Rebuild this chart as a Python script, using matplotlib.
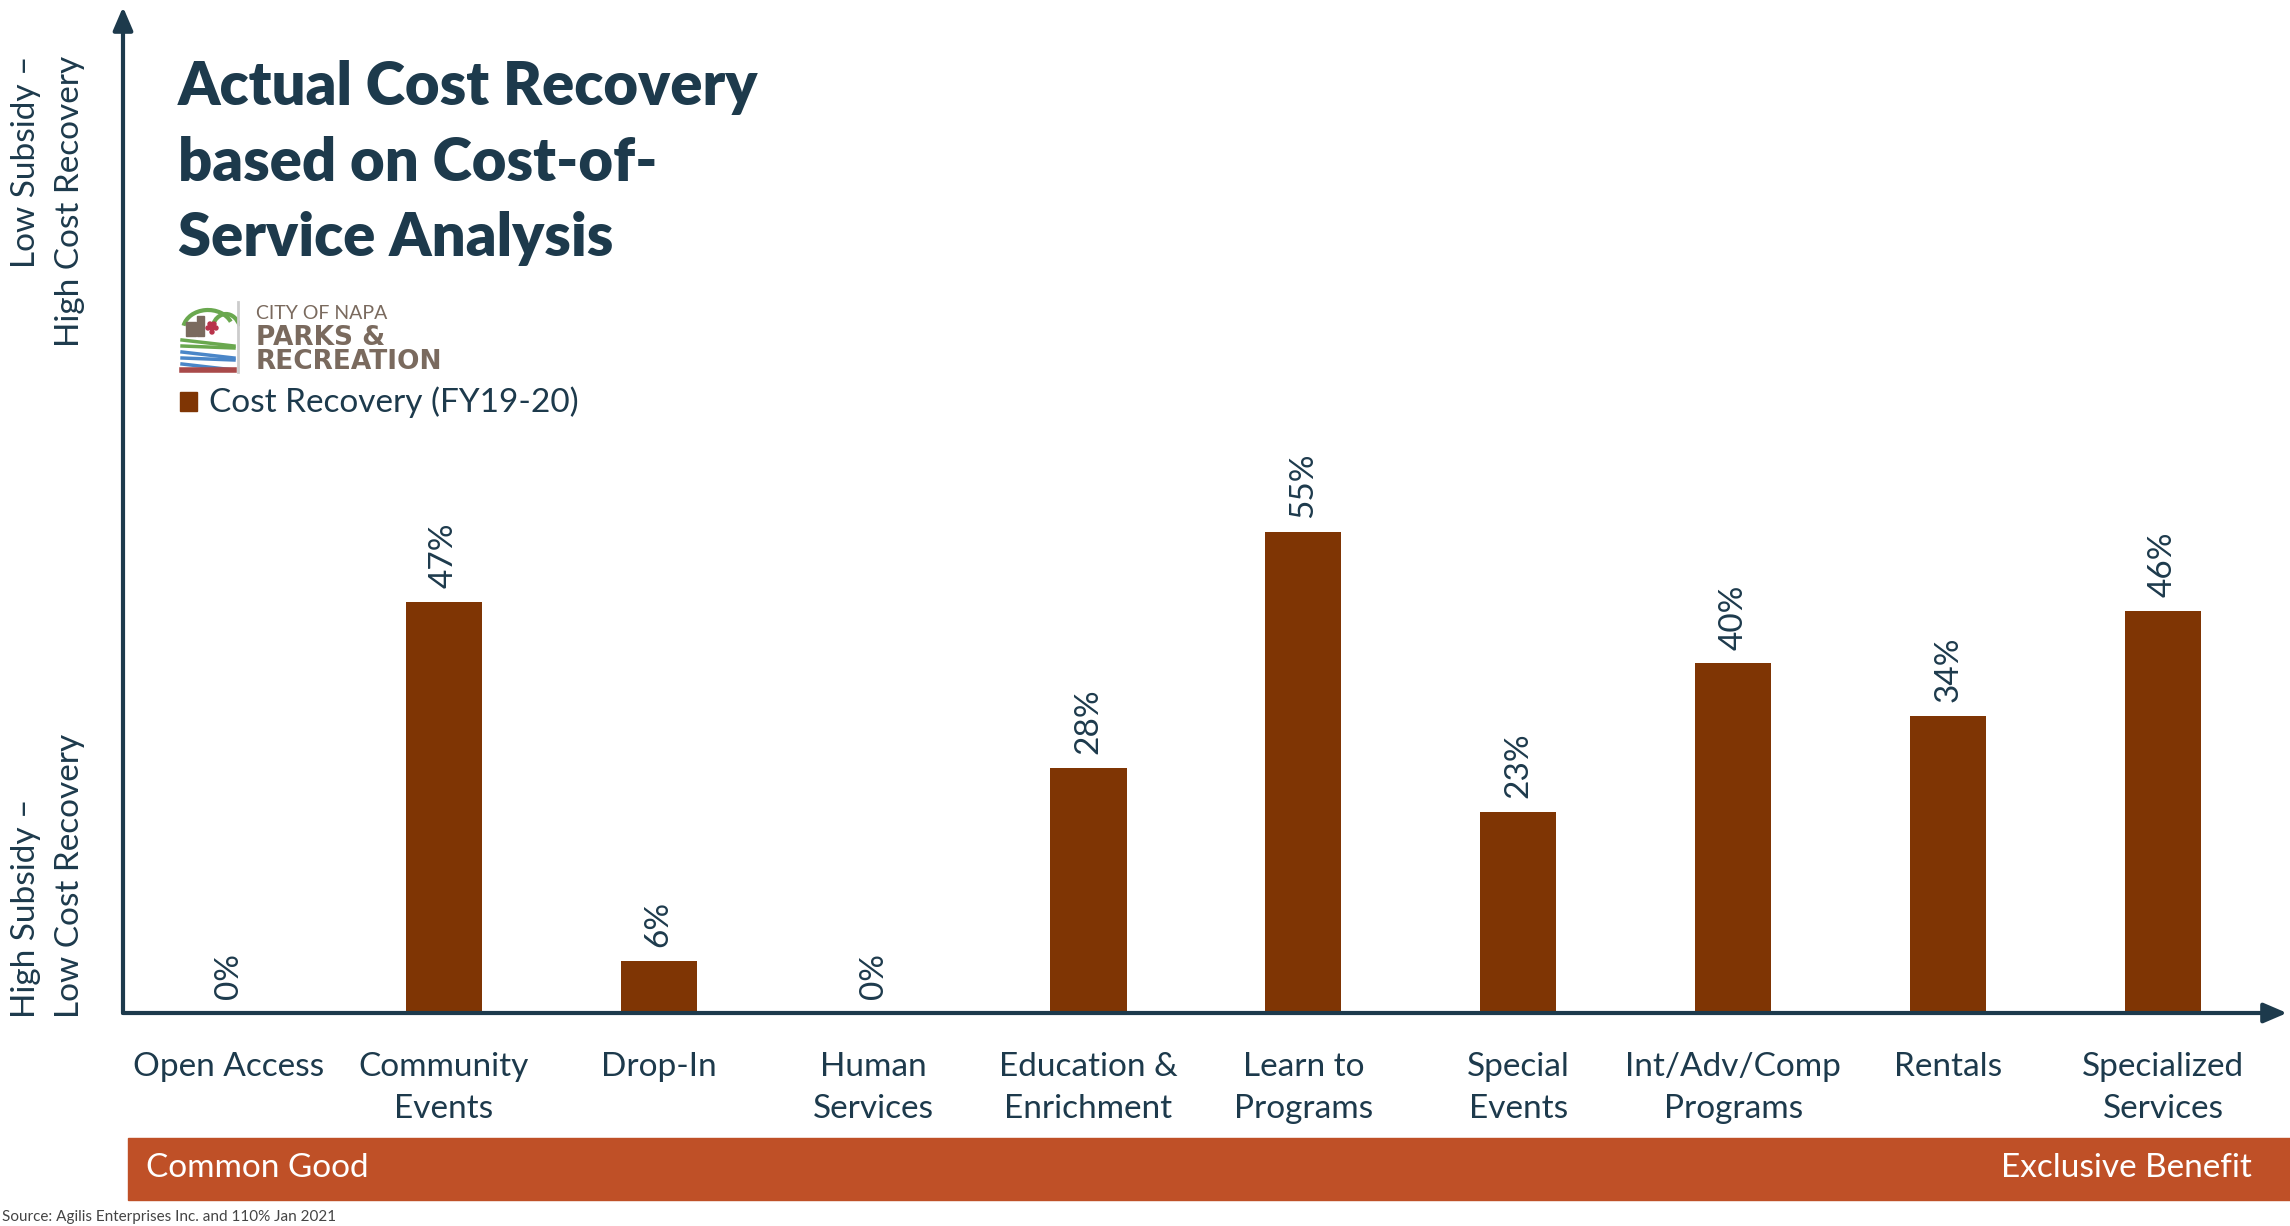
import numpy as np
import matplotlib.pyplot as plt
import matplotlib.patches as mpatches
import matplotlib as mpl

# data
categories = ["Open Access", "Community\nEvents", "Drop-In", "Human\nServices",
              "Education &\nEnrichment", "Learn to\nPrograms", "Special\nEvents",
              "Int/Adv/Comp\nPrograms", "Rentals", "Specialized\nServices"]
recovery = [0, 47, 6, 0, 28, 55, 23, 40, 34, 46]
value_labels = ["0%", "47%", "6%", "0%", "28%", "55%", "23%", "40%", "34%", "46%"]

navy = "#1d3a4c"
bar_color = "#7f3504"
band_color = "#bf5027"
logo_gray = "#7a6a5e"

mpl.rcParams["font.family"] = ["Lato", "DejaVu Sans"]

W, H = 2290, 1226
fig = plt.figure(figsize=(W / 100, H / 100), dpi=100)

def fx(px):
    return px / W

def fy(py):
    return 1 - py / H

# main axes: baseline at y=1013px, y-axis at x=123px
ax = fig.add_axes([fx(123), fy(1013), fx(2287) - fx(123), fy(7) - fy(1013)])
x = np.arange(len(categories))
ax.bar(x, recovery, width=0.354, color=bar_color)
ax.set_xlim(-0.493, 9.577)
ax.set_ylim(0, 115.1)
for s in ax.spines.values():
    s.set_visible(False)
ax.set_yticks([])
ax.set_xticks(x)
ax.set_xticklabels(categories, fontsize=24, color=navy, linespacing=1.5)
ax.tick_params(axis="x", length=0, pad=28)

for xi, v, lab in zip(x, recovery, value_labels):
    ax.annotate(lab, (xi, v), xytext=(0, 10), textcoords="offset points",
                rotation=90, ha="center", va="bottom", fontsize=24, color=navy)

# axis arrows
arrow = dict(arrowstyle="-|>,head_length=1.4,head_width=0.6", color=navy, lw=3,
             shrinkA=0, shrinkB=0)
ax.annotate("", xy=(1, 0), xytext=(0, 0), xycoords="axes fraction", arrowprops=arrow)
ax.annotate("", xy=(0, 1), xytext=(0, 0), xycoords="axes fraction", arrowprops=arrow)

# side labels
fig.text(fx(48), fy(56), "Low Subsidy \u2013\nHigh Cost Recovery", rotation=90,
         ha="center", va="top", multialignment="right", fontsize=24, color=navy,
         linespacing=1.57)
fig.text(fx(48), fy(1018), "High Subsidy \u2013\nLow Cost Recovery", rotation=90,
         ha="center", va="bottom", multialignment="left", fontsize=24, color=navy,
         linespacing=1.57)

# title
fig.text(fx(178), fy(60), "Actual Cost Recovery\nbased on Cost-of-\nService Analysis",
         ha="left", va="top", fontsize=43, fontweight="heavy", color=navy,
         linespacing=1.46)

# logo (simplified)
lax = fig.add_axes([fx(178), fy(374), fx(240) - fx(178), fy(300) - fy(374)])
lax.set_xlim(0, 62)
lax.set_ylim(0, 74)
lax.axis("off")
lax.add_patch(mpatches.Arc((30, 44), 50, 40, theta1=20, theta2=170, color="#6aa84f", lw=3))
lax.add_patch(mpatches.Arc((48, 40), 30, 40, theta1=30, theta2=150, color="#6aa84f", lw=3))
lax.add_patch(mpatches.Rectangle((8, 38), 10, 14, color="#7a6a5e"))
lax.add_patch(mpatches.Rectangle((19, 38), 7, 20, color="#7a6a5e"))
for gx, gy in [(32, 50), (36, 50), (34, 46), (30, 46), (38, 46), (34, 42)]:
    lax.add_patch(mpatches.Circle((gx, gy), 2, color="#b8334a"))
for i, c in enumerate(["#6aa84f", "#6aa84f", "#4a86c8", "#4a86c8", "#4a86c8"]):
    lax.plot([4, 56], [34 - i * 6, 28 - i * 6 + (i % 2) * 4], color=c, lw=2.5)
lax.plot([4, 56], [4, 4], color="#a94a4a", lw=4)
lax.plot([60, 60], [2, 72], color="#cccccc", lw=2)
fig.text(fx(256), fy(314), "CITY OF NAPA", fontsize=14, color=logo_gray, va="center")
fig.text(fx(256), fy(338), "PARKS &", fontsize=19, fontweight="bold", color=logo_gray,
         va="center", family="DejaVu Sans")
fig.text(fx(256), fy(362), "RECREATION", fontsize=19, fontweight="bold", color=logo_gray,
         va="center", family="DejaVu Sans")

# legend
fig.patches.append(mpatches.Rectangle((fx(180), fy(411)), fx(197) - fx(180),
                                      fy(392) - fy(411), transform=fig.transFigure,
                                      color=bar_color))
fig.text(fx(209), fy(402), "Cost Recovery (FY19-20)", fontsize=24, color=navy,
         va="center", ha="left")

# bottom band
fig.patches.append(mpatches.Rectangle((fx(128), fy(1200)), 1 - fx(128),
                                      fy(1138) - fy(1200), transform=fig.transFigure,
                                      color=band_color))
fig.text(fx(146), fy(1168), "Common Good", fontsize=24, color="white", va="center")
fig.text(fx(2252), fy(1168), "Exclusive Benefit", fontsize=24, color="white",
         va="center", ha="right")

fig.text(fx(2), fy(1224), "Source: Agilis Enterprises Inc. and 110% Jan 2021",
         fontsize=11, color="#444444", va="bottom", ha="left")

fig.savefig("out.png", dpi=100)
